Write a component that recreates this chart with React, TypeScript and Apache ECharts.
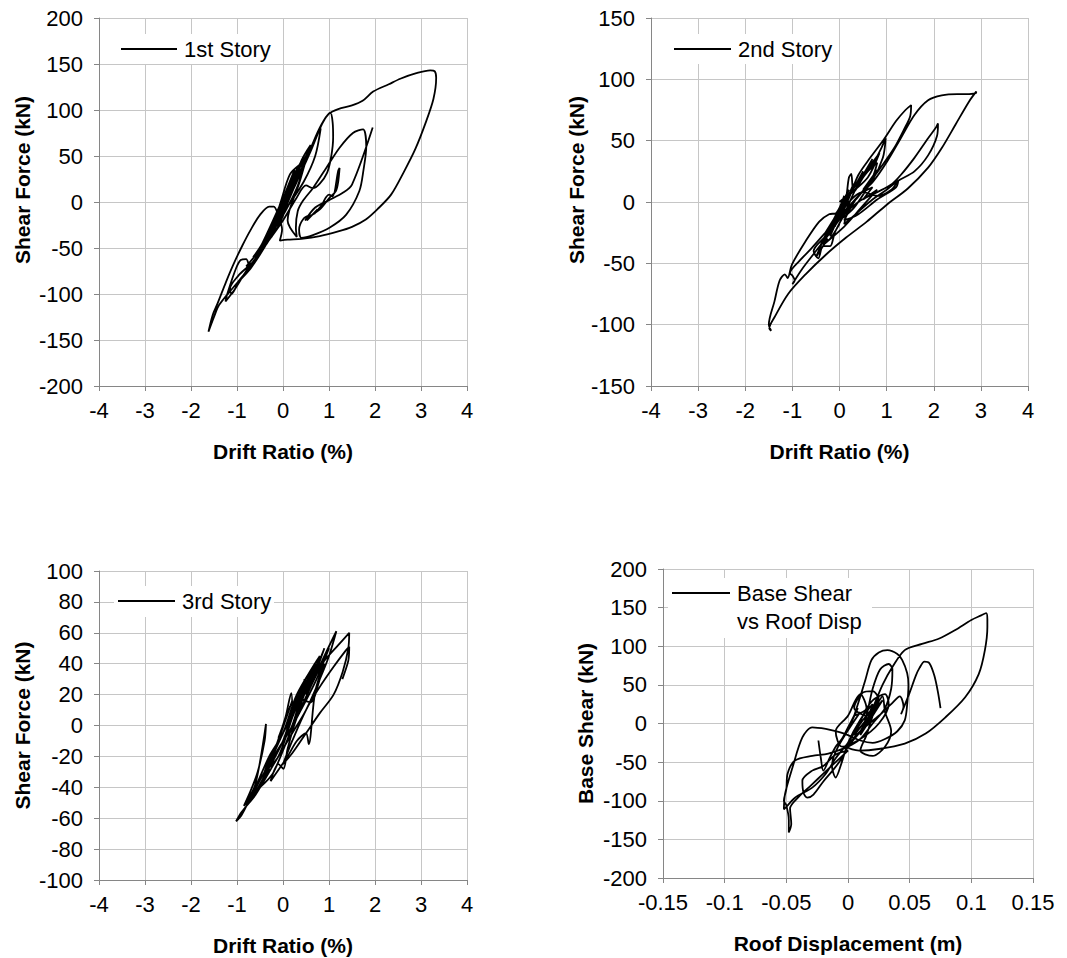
import React, { useEffect, useRef } from "react";
import * as echarts from "echarts";

// 1st story: drift ratio (%) vs shear force (kN)
const story1: number[][] = [
  [0, 0], [0.12, 14], [-0.05, -8], [-0.18, -20], [0.02, 2], [0.22, 24], [0.05, 2], [-0.28, -30], [-0.1, -14], [0.3, 32], [0.12, 8], [-0.35, -38], [-0.15, -18], [0.38, 40], [0.2, 15],
  [0.05, 10], [0.25, 35], [0.1, 15], [-0.2, -25], [-0.05, 0], [0.15, 30], [0.35, 40], [0.2, 25], [-0.1, -10], [-0.4, -42], [-0.25, -38], [0, -15], [0.2, 20], [0.45, 48], [0.3, 35], [0.05, 5], [-0.3, -35], [-0.5, -50], [-0.35, -45], [-0.1, -20], [0.15, 10], [0.4, 45], [0.6, 62], [0.5, 50], [0.2, 25],
  [-0.45, -45], [-0.65, -60], [-0.5, -52], [-0.1, -20], [0.3, 25], [0.55, 52], [0.75, 75], [0.82, 80], [0.7, 50], [0.45, 22], [0.1, -5], [-0.3, -35], [-0.6, -58], [-0.8, -70], [-0.65, -65], [-0.4, -45], [0, -10],
  [0.3, 22], [0.6, 55], [0.85, 85], [1.0, 96], [1.2, 101], [1.5, 105], [1.73, 110], [1.96, 120], [2.3, 128], [2.55, 134], [2.9, 140], [3.2, 143], [3.3, 142], [3.33, 135], [3.27, 112], [3.1, 86], [2.88, 58], [2.62, 32], [2.35, 8], [2.05, -8], [1.8, -19], [1.5, -27], [1.2, -32], [0.8, -37], [0.4, -40], [0.1, -41], [-0.07, -42],
  [-0.02, -30], [-0.1, -15], [-0.2, -5], [-0.3, -5], [-0.5, -14], [-0.7, -30], [-0.88, -47], [-1.08, -68], [-1.24, -87], [-1.42, -110], [-1.53, -123], [-1.62, -141], [-1.5, -125], [-1.39, -112], [-1.1, -94], [-0.8, -76], [-0.5, -55], [-0.2, -30], [0.05, -10], [0.3, 15],
  [0.5, 45], [0.7, 70], [0.88, 88], [1.03, 97], [1.08, 86], [1.09, 70], [1.05, 50], [0.96, 32], [0.8, 20], [0.65, 15], [0.5, 18],
  [0.3, 5], [0, -20], [-0.4, -48], [-0.8, -75], [-1.05, -95], [-1.25, -108], [-1.2, -98], [-1.02, -72], [-0.92, -63], [-0.8, -62], [-0.72, -70], [-0.6, -62], [-0.45, -48], [-0.2, -25], [0.1, 5],
  [-0.3, -40], [-0.7, -72], [-0.95, -86], [-1.12, -100], [-1.15, -94], [-0.97, -80], [-0.8, -72], [-0.6, -64], [-0.35, -44], [0, -12],
  [0.4, 35], [0.55, 55], [0.42, 38], [0.2, 20], [0.32, 34], [0.5, 46], [0.35, 20], [0.1, -20],
  [0.3, -38], [0.28, -28], [0.32, -10], [0.43, 1], [0.65, 15], [0.94, 37], [1.23, 59], [1.52, 75], [1.74, 79], [1.81, 60], [1.75, 35], [1.66, 12], [1.37, -14], [1.01, -28], [0.65, -36], [0.4, -39], [0.35, -30],
  [0.45, -18], [0.6, -14], [0.52, -20], [0.75, -8], [0.68, -13], [0.9, 0], [0.84, -4], [1.0, 8], [1.08, 6], [1.2, 34], [1.23, 37], [1.2, 22], [1.15, 12], [1.0, 4], [0.8, -8], [0.6, -15], [0.48, -20], [0.7, -6], [1.0, 2], [1.3, 10], [1.5, 19], [1.95, 81],
];

// 2nd story
const story2: number[][] = [
  [0, 0], [0.15, 5], [-0.1, -15], [0.2, 10], [-0.2, -20], [0.3, 12], [-0.3, -25], [0.1, -5],
  [0.3, 15], [0.1, -3], [0.5, 25], [0.35, 12], [0.7, 35], [0.5, 22], [0.85, 40], [0.6, 20], [0.2, 5], [-0.2, -20], [-0.4, -35], [-0.25, -30], [-0.5, -45], [-0.3, -28], [0.1, -3],
  [0.2, 20], [0.25, 23], [0.3, 8], [0.5, 20], [0.7, 30], [0.9, 45], [0.98, 52], [0.92, 36], [0.7, 18], [0.4, 5], [0.1, -8],
  [-0.3, -28], [-0.55, -40], [-0.45, -46], [-0.35, -36], [-0.2, -36], [-0.1, -25], [0.1, -10],
  [0.4, 15], [0.6, 25], [0.8, 32], [0.7, 20], [0.5, 10], [0.8, 26], [0.6, 12], [0.3, -5], [0, -15],
  [0.22, 5], [0.4, 22], [0.65, 36], [0.94, 51], [1.2, 66], [1.4, 75], [1.52, 79], [1.5, 70], [1.38, 60], [1.16, 44], [0.87, 28], [0.6, 14], [0.3, 0], [0, -12],
  [-0.3, -25], [-0.6, -38], [-0.85, -48], [-1.05, -58], [-1.0, -60], [-0.95, -64], [-1.0, -67], [-0.8, -55], [-0.5, -40], [-0.2, -25], [0.05, -12],
  [0.4, 0], [0.8, 8], [1.09, 14], [1.3, 22], [1.59, 36], [1.88, 52], [2.05, 61], [2.09, 64], [2.07, 54], [1.88, 38], [1.59, 25], [1.23, 17], [1.0, 10], [0.7, 2], [0.4, -8], [0.1, -18],
  [0.2, -5], [0.43, 6], [0.72, 17], [1.01, 33], [1.3, 52], [1.59, 71], [1.88, 83], [2.17, 87], [2.5, 88], [2.75, 88], [2.9, 89], [2.9, 90], [2.75, 82], [2.46, 63], [2.17, 44], [1.88, 28], [1.45, 11], [1.01, -2], [0.58, -16], [0.14, -29], [-0.29, -43], [-0.72, -59], [-1.09, -75], [-1.38, -94], [-1.49, -103], [-1.45, -105], [-1.5, -100], [-1.38, -81], [-1.27, -64], [-1.16, -59], [-1.1, -62], [-1.01, -51], [-0.72, -32], [-0.43, -16], [-0.22, -10], [-0.07, -9],
  [0.1, 5], [-0.1, -20], [0.2, 8], [-0.2, -28], [0.1, -5], [0.5, 8], [0.8, 5], [1.1, 10], [1.25, 18], [1.2, 12], [0.8, 2], [0.4, -10], [0.1, -15],
  [0.4, 5], [0.7, 12], [0.5, 2], [0.8, 10], [0.45, -5], [0.1, -20], [-0.35, -35], [-0.2, -30], [0, -18],
];

// 3rd story
const story3: number[][] = [
  [0, 0], [0.1, 8], [-0.1, -8], [0.15, 12], [-0.15, -14], [0.2, 16], [-0.2, -18], [0.1, 2],
  [0.4, 25], [0.1, 0], [0.5, 30], [0.2, 5], [0.6, 35], [0.3, 10], [0.7, 40], [0.4, 15], [-0.2, -30], [-0.5, -40], [-0.3, -28], [-0.6, -45], [-0.4, -35], [-0.75, -50], [-0.5, -38], [0, -10],
  [0.3, 18], [0.4, 22], [0.2, 5], [-0.1, -20], [-0.4, -30], [-0.3, -22], [0, -5], [0.2, 10],
  [0.18, 21], [0.05, 5], [-0.3, -25], [-0.6, -40], [-0.8, -50], [-0.6, -38], [-0.37, 1], [-0.4, -10], [-0.55, -30], [-0.7, -42], [-0.85, -52], [-0.7, -46], [-0.4, -30], [-0.1, -15],
  [0.2, 0], [0.47, 30], [0.4, 18], [0.6, 15], [0.8, 30], [0.9, 40], [0.7, 22], [0.56, -12], [0.5, -5], [0.3, -10], [0.1, -20], [-0.27, -36], [-0.1, -25], [0.01, -28], [0.1, -15],
  [0.3, 5], [0.6, 25], [0.9, 45], [1.16, 61], [1.0, 45], [0.8, 30], [0.5, 10], [0.2, -5],
  [-0.2, -25], [-0.6, -45], [-0.9, -56], [-1.02, -62], [-0.9, -58], [-0.6, -40], [-0.3, -20], [0, -5],
  [0.3, 20], [0.8, 45], [0.5, 20], [0.9, 50], [0.6, 25], [1.0, 50], [0.7, 28], [0.3, 5],
  [0.3, 15], [0.6, 30], [0.9, 42], [1.2, 52], [1.44, 60], [1.42, 50], [1.3, 35], [1.1, 20], [0.8, 8], [0.5, -5], [0.2, -18], [0, -25],
  [0.2, -10], [0.5, 10], [0.8, 25], [1.1, 38], [1.35, 48], [1.44, 51], [1.42, 42], [1.29, 30],
];

// Base shear (kN) vs roof displacement (m)
const baseShear: number[][] = [
  [-0.024, -22], [-0.022, -45], [-0.02, -61], [-0.015, -45], [-0.01, -30], [-0.005, -20], [0, -5], [0.005, 10], [-0.003, -15], [0.008, 20], [0, -8], [0.01, 15], [-0.008, -30], [-0.013, -55], [-0.01, -70], [-0.005, -50], [0, -25], [0.01, 5], [0.02, 25], [0.015, 10],
  [0.005, 20], [0.012, 40], [0.02, 42], [0.025, 30], [0.02, 10], [0.015, -15], [0.01, -35], [0.02, -42], [0.03, -30], [0.035, -10], [0.03, 15], [0.028, 35], [0.022, 20], [0.015, 0], [0.005, -20], [0.012, 10], [0.02, 30], [0.03, 38], [0.033, 25], [0.025, 0], [0.01, -20], [-0.005, -30], [-0.01, -10], [0, 10], [0.006, 30], [0.01, 38], [0.015, 20],
  [0.005, 10], [0.01, 35], [0.014, 56], [0.019, 82], [0.025, 92], [0.032, 95], [0.04, 90], [0.044, 82], [0.048, 65], [0.049, 50], [0.048, 25], [0.046, 4], [0.04, -10], [0.03, -20], [0.02, -25], [0.01, -22], [0, -15],
  [-0.01, -10], [-0.018, -7], [-0.029, -5], [-0.037, -18], [-0.045, -57], [-0.051, -91], [-0.052, -111], [-0.05, -108], [-0.043, -96], [-0.029, -83], [-0.018, -65], [-0.01, -45], [0, -25],
  [0.01, 0], [0.02, 20], [0.025, 35], [0.02, 15], [0.01, -5], [0.005, -15], [0.015, 5], [0.028, 30], [0.02, 10], [0.01, -15],
  [0.015, 10], [0.02, 45], [0.026, 70], [0.033, 77], [0.036, 70], [0.035, 45], [0.03, 20], [0.02, 0], [0.01, -20], [0, -30],
  [-0.016, -39], [-0.029, -42], [-0.043, -48], [-0.049, -65], [-0.05, -85], [-0.052, -100], [-0.05, -106], [-0.048, -125], [-0.048, -141], [-0.046, -130], [-0.047, -110], [-0.04, -95], [-0.03, -80], [-0.02, -65], [-0.01, -50], [0, -35],
  [-0.01, -40], [-0.02, -55], [-0.029, -61], [-0.037, -74], [-0.036, -90], [-0.033, -96], [-0.028, -92], [-0.02, -75], [-0.012, -60], [-0.005, -45], [0, -30],
  [0.01, -10], [0.02, 20], [0.028, 50], [0.036, 73], [0.046, 95], [0.06, 103], [0.074, 110], [0.087, 121], [0.1, 134], [0.108, 140], [0.112, 143], [0.113, 135], [0.113, 125], [0.111, 95], [0.106, 64], [0.095, 34], [0.079, 8], [0.063, -13], [0.046, -26], [0.025, -33], [0.009, -35], [0, -30],
  [0.01, -10], [0.025, 10], [0.035, 25], [0.042, 35], [0.045, 22], [0.043, 12], [0.05, 40], [0.055, 62], [0.058, 72], [0.062, 80], [0.066, 78], [0.07, 62], [0.073, 40], [0.075, 20],
];

const FONT = "'Liberation Sans', Arial, sans-serif";
const AXIS_COLOR = "#868686";
const GRID_COLOR = "#c6c6c6";

const legendNames = ["1st Story", "2nd Story", "3rd Story", "Base Shear", "vs Roof Disp"];
const xTitles = ["Drift Ratio (%)", "Drift Ratio (%)", "Drift Ratio (%)", "Roof Displacement (m)"];
const yTitles = ["Shear Force (kN)", "Shear Force (kN)", "Shear Force (kN)", "Base Shear (kN)"];

function xAxisOf(i: number, min: number, max: number, interval: number) {
  return {
    type: "value",
    gridIndex: i,
    min,
    max,
    interval,
    axisLine: { show: true, onZero: false, lineStyle: { color: AXIS_COLOR, width: 1 } },
    axisTick: { show: true, length: 5, lineStyle: { color: AXIS_COLOR } },
    splitLine: { show: true, lineStyle: { color: GRID_COLOR, width: 1 } },
    axisLabel: { fontSize: 22, color: "#000", fontFamily: FONT, margin: 13 },
    name: xTitles[i],
    nameLocation: "middle",
    nameGap: 55,
    nameTextStyle: { fontSize: 21, fontWeight: "bold", color: "#000", fontFamily: FONT },
  };
}

function yAxisOf(i: number, min: number, max: number, interval: number, gap: number, shiftUp: number) {
  return {
    type: "value",
    gridIndex: i,
    min,
    max,
    interval,
    axisLine: { show: true, onZero: false, lineStyle: { color: AXIS_COLOR, width: 1 } },
    axisTick: { show: true, length: 5, lineStyle: { color: AXIS_COLOR } },
    splitLine: { show: true, lineStyle: { color: GRID_COLOR, width: 1 } },
    axisLabel: { fontSize: 22, color: "#000", fontFamily: FONT, margin: 16 },
    name: yTitles[i],
    nameLocation: "middle",
    nameGap: gap,
    nameTextStyle: {
      fontSize: 21,
      fontWeight: "bold",
      color: "#000",
      fontFamily: FONT,
      padding: [0, 0, 0, shiftUp * 2],
    },
  };
}

function seriesOf(i: number, data: number[][]) {
  return {
    type: "line",
    xAxisIndex: i,
    yAxisIndex: i,
    data,
    showSymbol: false,
    symbol: "none",
    smooth: 0.3,
    silent: true,
    lineStyle: { color: "#000", width: 1.8 },
  };
}

function legendItem(x1: number, x2: number, y: number, label: string, box: number[]) {
  return [
    { type: "rect", shape: { x: box[0], y: box[1], width: box[2], height: box[3] }, style: { fill: "#fff" }, z: 10 },
    { type: "line", shape: { x1, y1: y, x2, y2: y }, style: { stroke: "#000", lineWidth: 1.8 }, z: 11 },
    {
      type: "text",
      x: x2 + 7,
      y,
      z: 11,
      style: { text: label, font: `22px ${FONT}`, fill: "#000", textAlign: "left", textVerticalAlign: "middle" },
    },
  ];
}

export default function App() {
  const ref = useRef<HTMLDivElement>(null);

  useEffect(() => {
    document.body.style.margin = "0";
    if (!ref.current) return;
    const chart = echarts.init(ref.current, null, { renderer: "svg" });
    chart.setOption({
      animation: false,
      backgroundColor: "#fff",
      grid: [
        { left: 99, top: 18, width: 368, height: 368 },
        { left: 651, top: 18, width: 377, height: 368 },
        { left: 99, top: 571, width: 368, height: 309 },
        { left: 663, top: 569, width: 370, height: 309 },
      ],
      xAxis: [
        xAxisOf(0, -4, 4, 1),
        xAxisOf(1, -4, 4, 1),
        xAxisOf(2, -4, 4, 1),
        xAxisOf(3, -0.15, 0.15, 0.05),
      ],
      yAxis: [
        yAxisOf(0, -200, 200, 50, 66, 22),
        yAxisOf(1, -150, 150, 50, 62, 22),
        yAxisOf(2, -100, 100, 20, 66, 0),
        yAxisOf(3, -200, 200, 50, 67, 0),
      ],
      series: [seriesOf(0, story1), seriesOf(1, story2), seriesOf(2, story3), seriesOf(3, baseShear)],
      graphic: [
        ...legendItem(121, 177, 49, legendNames[0], [116, 34, 160, 30]),
        ...legendItem(674, 731, 49, legendNames[1], [669, 34, 165, 30]),
        ...legendItem(118, 175, 601, legendNames[2], [114, 586, 160, 31]),
        ...legendItem(672, 730, 593, legendNames[3], [668, 578, 204, 60]),
        {
          type: "text",
          x: 737,
          y: 621,
          z: 11,
          style: { text: legendNames[4], font: `22px ${FONT}`, fill: "#000", textAlign: "left", textVerticalAlign: "middle" },
        },
      ],
    });
    return () => chart.dispose();
  }, []);

  return <div ref={ref} style={{ width: 1067, height: 958 }} />;
}
